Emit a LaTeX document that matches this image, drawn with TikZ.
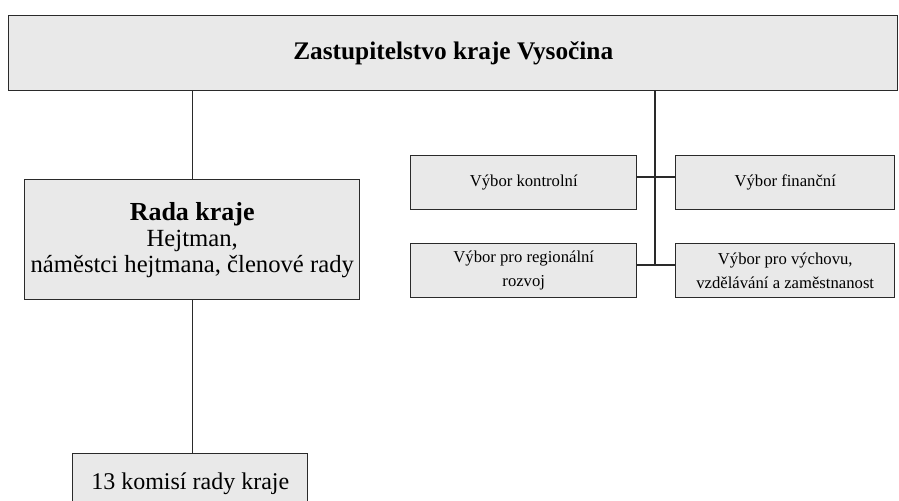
\documentclass[tikz,border=0pt]{standalone}
\usepackage{fontspec}
\setmainfont{Liberation Serif}
\usepackage{tikz}
\usetikzlibrary{calc}

\definecolor{boxfill}{HTML}{E9E9E9}
\definecolor{boxline}{HTML}{2A2A2A}

\tikzset{
    organ/.style={draw=boxline, fill=boxfill, line width=1.1pt, inner sep=1pt,
                  align=center, anchor=north west},
    vybor/.style={organ, font=\fontsize{12.5}{18}\selectfont},
    spoj/.style={draw=boxline, line width=1.1pt}
}

\begin{document}
\begin{tikzpicture}[x=0.75pt, y=-0.75pt]
        \def\vx{655}                                % x of the committee trunk

        \useasboundingbox (0,0) rectangle (899,500);
        \clip (0,0) rectangle (899,500);

        % Assembly across the top
        \node[organ, minimum width=889*0.75pt, minimum height=75*0.75pt,
              font=\bfseries\fontsize{19}{22}\selectfont] (zast) at (8,15)
              {Zastupitelstvo kraje Vysočina};

        % Council of the region
        \node[organ, minimum width=335*0.75pt, minimum height=120*0.75pt,
              font=\fontsize{18.5}{19.5}\selectfont] (rada) at (24,179)
              {{\fontsize{19.5}{21}\selectfont\textbf{Rada kraje}}\\Hejtman,\\náměstci hejtmana, členové rady};

        % Commissions (cut off by the page edge)
        \node[organ, minimum width=235*0.75pt, minimum height=70*0.75pt,
              font=\fontsize{18}{20}\selectfont, text depth=12pt] (komise) at (72,453)
              {13 komisí rady kraje};

        % Committees of the assembly
        \node[vybor, minimum width=226*0.75pt, minimum height=54*0.75pt] (kontrol) at (410,155)
              {Výbor kontrolní};
        \node[vybor, minimum width=219*0.75pt, minimum height=54*0.75pt] (financ) at (675,155)
              {Výbor finanční};
        \node[vybor, minimum width=226*0.75pt, minimum height=54*0.75pt] (region) at (410,243)
              {Výbor pro regionální\\rozvoj};
        \node[vybor, minimum width=219*0.75pt, minimum height=54*0.75pt] (vychova) at (675,243)
              {Výbor pro výchovu,\\vzdělávání a zaměstnanost};

        \coordinate (j1) at (\vx,177);
        \coordinate (j2) at (\vx,265);

        % Connectors
        \draw[spoj] (zast.south -| rada) -- (rada.north);
        \draw[spoj] (rada.south) -- (komise.north -| rada.south);
        \draw[spoj] (zast.south -| j1) -- (j2);
        \draw[spoj] (kontrol.east |- j1) -- (financ.west |- j1);
        \draw[spoj] (region.east |- j2) -- (vychova.west |- j2);

\end{tikzpicture}
\end{document}
